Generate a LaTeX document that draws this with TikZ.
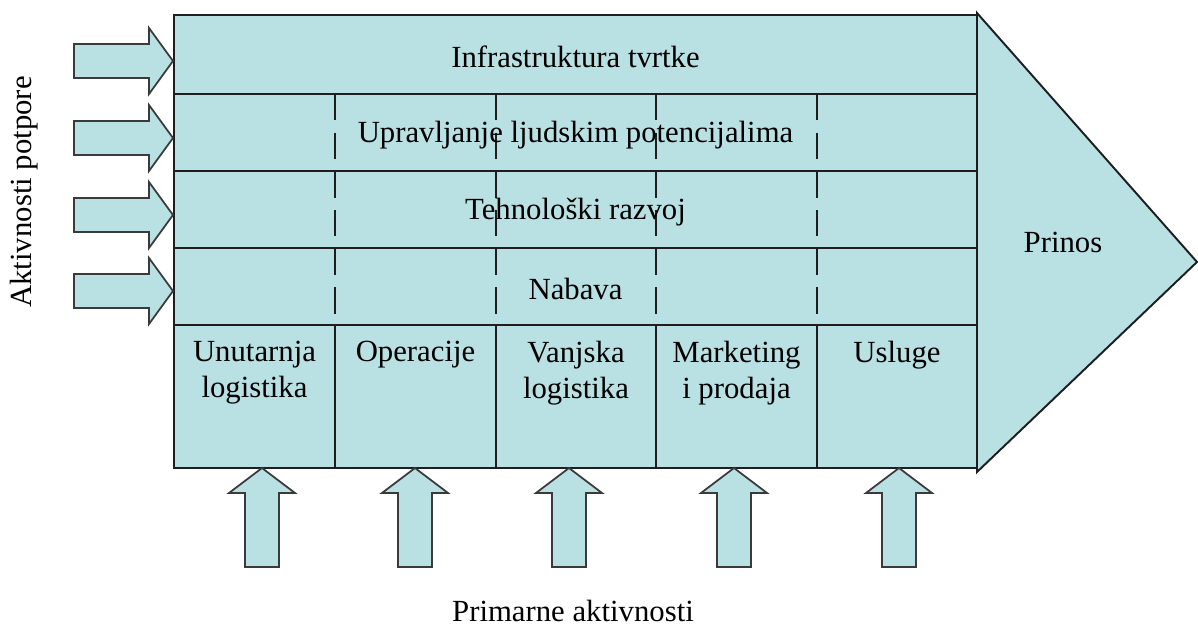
\documentclass[tikz,border=0pt]{standalone}
\usepackage{fontspec}
\setmainfont{Liberation Serif}
\usetikzlibrary{positioning}
\definecolor{ChainFill}{HTML}{B9E0E3}
\definecolor{ChainLine}{HTML}{1E1E1E}
\definecolor{ArrowLine}{HTML}{3A3A3A}
\tikzset{
  frameline/.style={draw=ChainLine,line width=1.1pt},
  sepline/.style={draw=ChainLine,line width=1.1pt,dash pattern=on 15pt off 7pt},
  blockarrow/.style={draw=ArrowLine,fill=ChainFill,line width=1pt,line join=miter},
  celltext/.style={font=\fontsize{17.5}{20.5}\selectfont,align=center,inner sep=0pt},
  rarrow/.pic={\path[blockarrow] (0,0) -- (-24,-33) -- (-24,-17) -- (-99,-17) -- (-99,17) -- (-24,17) -- (-24,33) -- cycle;},
  uarrow/.pic={\path[blockarrow] (0,0) -- (33,25) -- (17,25) -- (17,99) -- (-17,99) -- (-17,25) -- (-33,25) -- cycle;},
}
\begin{document}
\begin{tikzpicture}[x=0.02cm,y=-0.02cm]
  \useasboundingbox (0,0) rectangle (1198,628);

  % ── Margin head ──
  \path[frameline,fill=ChainFill] (977,13) -- (1197,262) -- (977,472) -- cycle;

  % ── Main block ──
  \path[frameline,fill=ChainFill] (174,15) rectangle (977,468);
  \foreach \y in {94,171,248,325}
    \draw[frameline] (174,\y) -- (977,\y);
  \foreach \x in {335,496,656,817}{
    \draw[sepline] (\x,94) -- (\x,325);
    \draw[frameline] (\x,325) -- (\x,468);
  }

  % ── Arrows ──
  \foreach \y in {61,138,215,291}
    \pic at (173,\y) {rarrow};
  \foreach \x in {262,415,569,734,899}
    \pic at (\x,468) {uarrow};

  % ── Support activities ──
  \node[celltext] (infra) at (575.5,57) {Infrastruktura tvrtke};
  \node[celltext] (ljudi) at (575.5,135) {Upravljanje ljudskim potencijalima};
  \node[celltext] (tehno) at (575.5,212) {Tehnološki razvoj};
  \node[celltext] (nabava) at (575.5,289) {Nabava};

  % ── Primary activities ──
  \node[celltext,anchor=north] (ulog) at (254.5,341) {Unutarnja\\logistika};
  \node[celltext,anchor=north] (oper) at (415.5,341) {Operacije};
  \node[celltext,anchor=north] (vlog) at (576,341) {Vanjska\\logistika};
  \node[celltext,anchor=north] (mark) at (736.5,341) {Marketing\\i prodaja};
  \node[celltext,anchor=north] (usl) at (897,341) {Usluge};

  \node[celltext] (prinos) at (1063,242) {Prinos};
  \node[celltext,rotate=90] (potpora) at (24,192) {Aktivnosti potpore};
  \node[celltext,anchor=base] (primarne) at (573,622) {Primarne aktivnosti};
\end{tikzpicture}
\end{document}
